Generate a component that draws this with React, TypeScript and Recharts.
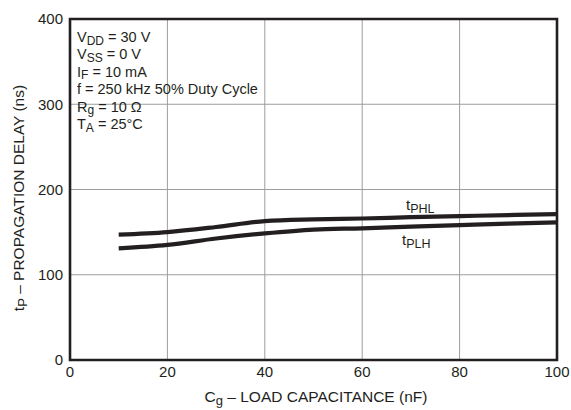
import { CartesianGrid, Customized, Line, LineChart, ReferenceArea, XAxis, YAxis } from 'recharts'

const FONT = '"Liberation Sans", Arial, Helvetica, sans-serif'
const INK = '#231f20'

// load capacitance (nF)
const capacitance = [10, 20, 30, 40, 50, 60, 70, 80, 90, 100]
// propagation delays (ns)
const tPHL = [147, 150, 156, 163, 165, 166, 167.5, 168.8, 170, 171]
const tPLH = [131, 135, 142.5, 148.5, 153, 154.5, 156.5, 158.3, 160, 161.5]

const xTicks = [0, 20, 40, 60, 80, 100]
const yTicks = [0, 100, 200, 300, 400]

const conditions: [string, string, string][] = [
  ['V', 'DD', ' = 30 V'],
  ['V', 'SS', ' = 0 V'],
  ['I', 'F', ' = 10 mA'],
  ['f = 250 kHz 50% Duty Cycle', '', ''],
  ['R', 'g', ' = 10 \u03a9'],
  ['T', 'A', ' = 25\u00b0C'],
]

const data = capacitance.map((c, i) => ({ c, tPHL: tPHL[i], tPLH: tPLH[i] }))

// text with a lowered subscript part
function Sub({ main, sub, rest, size }: { main: string; sub: string; rest: string; size: number }) {
  return (
    <>
      {main}
      {sub && <tspan dy={2.5} fontSize={size - 2.5}>{sub}</tspan>}
      {rest && <tspan dy={sub ? -2.5 : 0}>{rest}</tspan>}
    </>
  )
}

function Annotations() {
  return (
    <g fontFamily={FONT} fill={INK}>
      {conditions.map(([m, s, r], i) => (
        <text key={i} x={77} y={42 + i * 17.4} fontSize={14.5}>
          <Sub main={m} sub={s} rest={r} size={14.5} />
        </text>
      ))}
      <text x={406} y={210} fontSize={15}><Sub main="t" sub="PHL" rest="" size={15} /></text>
      <text x={402} y={245} fontSize={15}><Sub main="t" sub="PLH" rest="" size={15} /></text>
      <text x={316} y={402} fontSize={15.5} textAnchor="middle">
        <Sub main="C" sub="g" rest=" – LOAD CAPACITANCE (nF)" size={15.5} />
      </text>
      <text x={24} y={198} fontSize={15.5} textAnchor="middle" transform="rotate(-90 24 198)">
        <Sub main="t" sub="P" rest=" – PROPAGATION DELAY (ns)" size={15.5} />
      </text>
    </g>
  )
}

export default function App() {
  const tick = { fontSize: 15, fontFamily: FONT, fill: INK }
  return (
    <div style={{ position: 'absolute', left: 0, top: 0, background: '#fff' }}>
      <LineChart width={571} height={410} data={data} margin={{ top: 19, right: 14, bottom: 0, left: 0 }}>
        <CartesianGrid stroke="#9d9d9d" strokeWidth={1} />
        <XAxis dataKey="c" type="number" domain={[0, 100]} ticks={xTicks} height={50}
          tick={tick} tickLine={false} axisLine={false} tickSize={6} tickMargin={0} interval={0} />
        <YAxis type="number" domain={[0, 400]} ticks={yTicks} width={70}
          tick={tick} tickLine={false} axisLine={false} tickSize={5} tickMargin={2} interval={0} />
        <ReferenceArea x1={0} x2={100} y1={0} y2={400} fill="none" stroke={INK} strokeWidth={2.6} />
        <Line type="monotone" dataKey="tPHL" stroke={INK} strokeWidth={4.2} dot={false} isAnimationActive={false} />
        <Line type="monotone" dataKey="tPLH" stroke={INK} strokeWidth={4.2} dot={false} isAnimationActive={false} />
        <Customized component={<Annotations />} />
      </LineChart>
    </div>
  )
}
